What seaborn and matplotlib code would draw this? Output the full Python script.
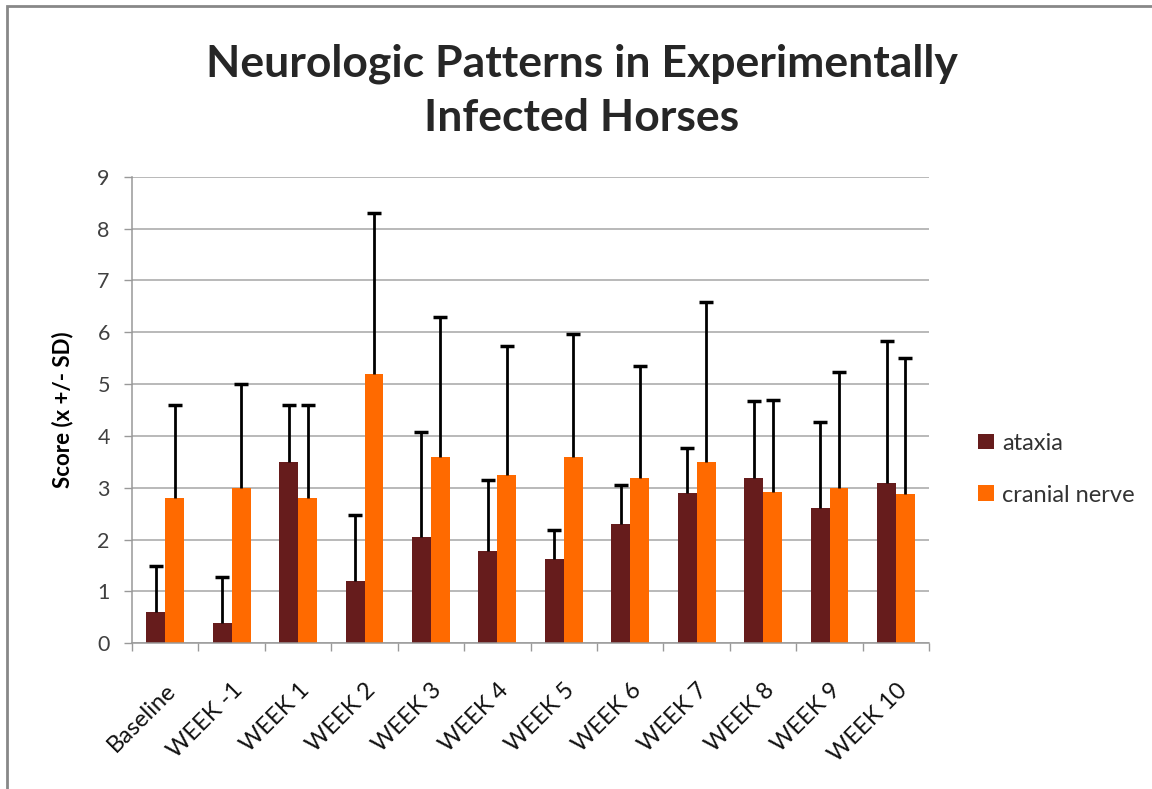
import numpy as np
import pandas as pd
import matplotlib
matplotlib.use("Agg")
import matplotlib.pyplot as plt
import seaborn as sns
from matplotlib.patches import Rectangle

categories = ["Baseline", "WEEK -1", "WEEK 1", "WEEK 2", "WEEK 3", "WEEK 4",
              "WEEK 5", "WEEK 6", "WEEK 7", "WEEK 8", "WEEK 9", "WEEK 10"]
ataxia_mean = [0.6, 0.4, 3.5, 1.2, 2.05, 1.78, 1.63, 2.3, 2.9, 3.18, 2.6, 3.1]
ataxia_top = [1.5, 1.28, 4.6, 2.48, 4.08, 3.15, 2.19, 3.05, 3.77, 4.68, 4.26, 5.84]
cranial_mean = [2.8, 3.0, 2.8, 5.2, 3.59, 3.24, 3.59, 3.19, 3.49, 2.92, 2.99, 2.87]
cranial_top = [4.59, 5.01, 4.59, 8.31, 6.29, 5.74, 5.97, 5.35, 6.58, 4.7, 5.23, 5.5]
series = ["ataxia", "cranial nerve"]
colors = ["#661c1c", "#ff6a00"]

ataxia_sd = [t - m for t, m in zip(ataxia_top, ataxia_mean)]
cranial_sd = [t - m for t, m in zip(cranial_top, cranial_mean)]

df = pd.DataFrame({
    "category": categories * 2,
    "series": [series[0]] * len(categories) + [series[1]] * len(categories),
    "score": ataxia_mean + cranial_mean,
    "sd": ataxia_sd + cranial_sd,
})

sns.set_theme(style="white")
plt.rcParams["font.family"] = ["Lato", "DejaVu Sans"]

fig = plt.figure(figsize=(11.52, 7.89), dpi=100)
ax = fig.add_axes([0.1146, 0.1847, 0.692, 0.5913])

sns.barplot(data=df, x="category", y="score", hue="series", order=categories,
            hue_order=series, palette=colors, width=0.57, errorbar=None,
            saturation=1, ax=ax, zorder=2, linewidth=0)

# error bars (upper only) at bar centres
for cont, s in zip(ax.containers, series):
    sub = df[df["series"] == s].set_index("category").loc[categories]
    xs = [p.get_x() + p.get_width() / 2 for p in cont.patches]
    ys = sub["score"].values
    sds = sub["sd"].values
    eb = ax.errorbar(xs, ys, yerr=[np.zeros_like(sds), sds], fmt="none",
                     ecolor="black", elinewidth=2, capsize=5, capthick=2.5, zorder=3)
    caplines = eb[1]
    if len(caplines) == 2:
        caplines[0].set_visible(False)

ax.set_ylim(0, 9)
ax.set_xlim(-0.5, len(categories) - 0.5)
ax.set_yticks(range(0, 10))
ax.yaxis.grid(True, color="#a6a6a6", linewidth=1.1, zorder=0)
ax.set_axisbelow(True)
for side in ["top", "right"]:
    ax.spines[side].set_visible(False)
for side in ["left", "bottom"]:
    ax.spines[side].set_color("#999999")
    ax.spines[side].set_linewidth(1.1)

ax.tick_params(axis="y", which="major", left=True, length=6, width=1, color="#999999",
               labelsize=15.5, labelcolor="#404040", pad=10)
ax.set_xticks(range(len(categories)))
ax.set_xticklabels(categories, rotation=45, ha="right", rotation_mode="anchor",
                   fontsize=17, color="#111111")
ax.tick_params(axis="x", which="major", bottom=False, pad=20)
ax.set_xticks(np.arange(-0.5, len(categories), 1), minor=True)
ax.tick_params(axis="x", which="minor", bottom=True, length=6, width=1, color="#999999")

ax.set_xlabel("")
ax.set_ylabel("Score (x +/- SD)", fontsize=16, fontweight="bold", color="black", labelpad=17)

handles, labels = ax.get_legend_handles_labels()
ax.legend(handles, labels, loc="center left", bbox_to_anchor=(1.035, 0.373), frameon=False,
          fontsize=17, handlelength=0.65, handleheight=0.65, labelspacing=1.3,
          handletextpad=0.35, labelcolor="#333333")

fig.text(0.505, 0.885, "Neurologic Patterns in Experimentally\nInfected Horses",
         ha="center", va="center", fontsize=32, fontweight="bold", linespacing=1.4)

fig.patches.append(Rectangle((7 / 1152, -0.1), 1.2, 1 - 6 / 789 + 0.1,
                             transform=fig.transFigure, fill=False,
                             edgecolor="#888888", linewidth=2))

fig.savefig("out.png", dpi=100)
